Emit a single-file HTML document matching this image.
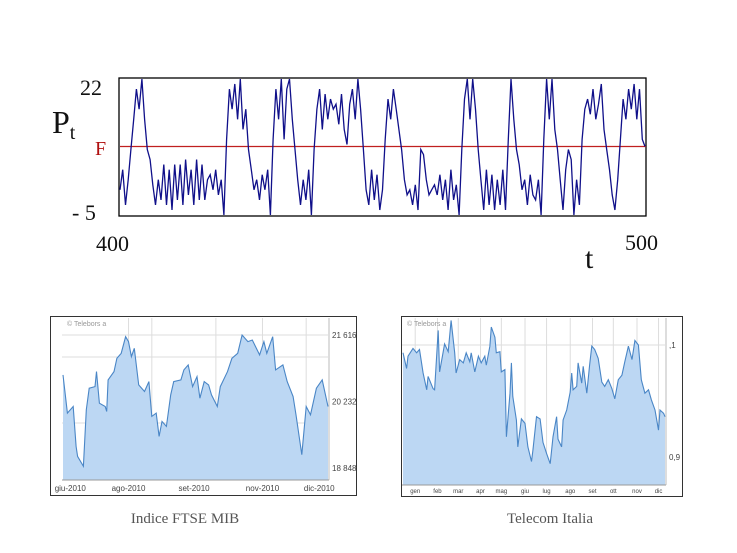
<!DOCTYPE html>
<html><head><meta charset="utf-8"><style>
html,body{margin:0;padding:0;background:#fff;}
body{width:737px;height:553px;overflow:hidden;position:relative;font-family:"Liberation Serif",serif;}
svg{position:absolute;left:0;top:0;}
</style></head><body>
<svg id="s" width="737" height="553" viewBox="0 0 737 553" xmlns="http://www.w3.org/2000/svg">
  <g id="top">
    <rect x="119" y="78" width="527" height="138" fill="none" stroke="#000" stroke-width="1.3"/>
    <text x="80" y="95" font-size="22" fill="#111">22</text>
    <text x="52" y="133" font-size="32" fill="#111">P<tspan font-size="20" dy="6">t</tspan></text>
    <text x="95" y="155" font-size="20" fill="#b01010">F</text>
    <text x="72" y="220" font-size="22" fill="#111">- 5</text>
    <text x="96" y="251" font-size="22" fill="#111">400</text>
    <text x="625" y="250" font-size="22" fill="#111">500</text>
    <text x="585" y="268" font-size="30" fill="#111">t</text>
  </g>
  <g id="left">
    <rect x="50.5" y="316.5" width="306" height="179" fill="#fff" stroke="#333" stroke-width="1"/>
  </g>
  <g id="right">
    <rect x="401.5" y="316.5" width="281" height="180" fill="#fff" stroke="#333" stroke-width="1"/>
  </g>
  <text x="185" y="523" font-size="15" fill="#555" text-anchor="middle">Indice FTSE MIB</text>
  <text x="550" y="523" font-size="15" fill="#555" text-anchor="middle">Telecom Italia</text>
</svg>
<script>
// ---- top chart data ----
const topValues = [0,4,-3,2,8,14,20,16,22,14,8,6,
1,-3,2,-2,5,-3,4,-4,5,-2,5,-3,6,-1,4,-3,6,-2,5,-2,2,3,0,4,-1,2,-5,
10,20,16,21,14,22,12,16,8,
4,0,2,-2,3,0,4,-5,
10,20,14,22,10,20,22,14,
8,2,-3,2,-2,4,-5,
8,16,20,12,19,14,18,16,17,13,19,12,9,17,20,14,22,16,
8,0,-3,4,-2,3,-4,0,
10,18,14,20,16,12,8,
2,-1,0,-3,1,-4,8,7,2,-1,0,1,-1,3,-2,2,-4,4,-2,1,-5,
8,18,22,14,22,16,8,
2,-4,4,-3,3,-4,2,-3,4,-4,
10,22,14,8,5,
0,2,-3,3,-1,-2,2,-5,
10,22,14,22,12,8,
2,-4,4,8,6,-5,2,-3,
10,16,18,15,20,14,17,21,12,8,
4,-1,-4,2,
10,18,14,20,16,21,14,20,
10,8.6];
const topT0 = 400, topT1 = 500;
const topYMin = -5, topYMax = 22;
const fundamental = 8.6;

// ---- FTSE MIB data ----
const ftseDays = [0,3,7,9,10,14,16,18,22,23,25,29,30,31,35,37,40,43,45,47,49,52,56,59,61,64,66,68,71,74,76,81,83,86,89,92,94,97,100,102,106,108,113,116,120,123,127,130,135,138,140,144,146,151,154,158,160,164,167,170,174,178,182];
const ftsePrices = [20786,19990,20128,19298,19090,18883,20059,20509,20543,20855,20197,20128,20024,20682,20855,21132,21235,21581,21478,21166,21339,20578,20440,20647,19921,19990,19505,19817,19713,20370,20647,20682,20889,20993,20543,20751,20301,20647,20578,20370,20128,20543,20855,21132,21235,21616,21478,21512,21201,21478,21235,21581,20889,20993,20647,20336,19955,19125,20128,19955,20509,20682,20128];
const ftseTicks = [21616,20232,18848];
const ftseTickLabels = ["21 616","20 232","18 848"];
const ftseMonths = ["giu-2010","ago-2010","set-2010","nov-2010","dic-2010"];
const ftseMonthDays = [5,45,90,137,176];
const ftseGridDays = [45,61,105,137,167];

// ---- Telecom data ----
const telDays = [0,5,7,14,19,23,28,33,35,40,42,44,49,51,58,63,67,72,74,79,84,88,93,95,100,105,109,114,116,121,123,128,130,135,137,142,144,149,151,153,158,160,165,170,174,179,181,186,191,195,200,205,209,214,216,221,223,228,233,235,237,242,244,249,251,256,260,263,267,272,277,281,286,291,295,300,305,309,314,319,323,328,332,337,342,346,351,356,358,363,365];
const telPrices = [0.993,0.979,0.990,0.997,0.993,0.996,0.975,0.960,0.972,0.964,0.961,0.960,1.013,0.976,1.001,0.994,1.022,0.993,0.975,0.987,0.984,0.993,0.985,0.993,0.976,0.990,0.984,0.990,0.982,0.999,1.016,1.007,0.993,0.994,0.976,0.978,0.918,0.957,0.984,0.954,0.933,0.909,0.934,0.930,0.909,0.896,0.906,0.936,0.934,0.913,0.903,0.894,0.918,0.936,0.916,0.909,0.933,0.942,0.958,0.975,0.960,0.963,0.984,0.966,0.981,0.957,0.982,0.999,0.996,0.988,0.967,0.963,0.969,0.961,0.952,0.969,0.973,0.985,0.999,0.987,1.004,1.000,0.969,0.957,0.960,0.951,0.942,0.924,0.942,0.939,0.936];
const telMonths = ["gen","feb","mar","apr","mag","giu","lug","ago","set","ott","nov","dic"];
const telMonthDays = [17,48,77,108,137,170,200,233,264,293,326,356];
const telTickVals = [1.0,0.9];
const telTickLabels = [",1","0,9"];

const NS = "http://www.w3.org/2000/svg";
function mk(tag, attrs, parent){const e=document.createElementNS(NS,tag);for(const k in attrs)e.setAttribute(k,attrs[k]);parent.appendChild(e);return e;}

// top chart
(function(){
  const g=document.getElementById('top');
  const x0=120,x1=645,yTop=79,yBot=215;
  const xs=i=>x0+(x1-x0)*i/(topValues.length-1);
  const ys=v=>yBot-(v-topYMin)/(topYMax-topYMin)*(yBot-yTop);
  const fl=mk('line',{x1:x0,x2:x1+1,y1:ys(fundamental),y2:ys(fundamental),stroke:'#c02020','stroke-width':1.3},g);
  
  
  const d=topValues.map((v,i)=>(i?'L':'M')+xs(i).toFixed(1)+','+ys(v).toFixed(1)).join(' ');
  const p=mk('path',{d:d,fill:'none',stroke:'#10108a','stroke-width':1.3},g);
  
  
})();

function areaChart(gid, days, prices, cfg){
  const g=document.getElementById(gid);
  const xs=dd=>cfg.x0+(cfg.x1-cfg.x0)*(dd-cfg.d0)/(cfg.d1-cfg.d0);
  const ys=v=>cfg.yA+(v-cfg.vA)/(cfg.vB-cfg.vA)*(cfg.yB-cfg.yA);
  cfg.hgrid.forEach(y=>{const l=mk('line',{x1:cfg.x0-1,x2:cfg.x1,y1:y,y2:y,stroke:'#ddd','stroke-width':1},g);
    
    });
  cfg.gridDays.forEach(dd=>{const x=xs(dd);
    const l=mk('line',{x1:x,x2:x,y1:cfg.plotTop,y2:cfg.base,stroke:'#ddd','stroke-width':1},g);
    
    });
  cfg.monthDays.forEach((dd,i)=>{const x=xs(dd);
    const t=mk('text',{x:x,y:cfg.labelY,'font-size':cfg.lfs,fill:'#444','text-anchor':'middle','font-family':'Liberation Sans, sans-serif'},g);
    t.textContent=cfg.months[i];
    
    });
  let d='M'+xs(days[0]).toFixed(1)+','+cfg.base;
  days.forEach((dd,i)=>{d+=' L'+xs(dd).toFixed(1)+','+ys(prices[i]).toFixed(1);});
  d+=' L'+xs(days[days.length-1]).toFixed(1)+','+cfg.base+' Z';
  const a=mk('path',{d:d,fill:'#bcd7f3',stroke:'none'},g);
  
  
  const ld=days.map((dd,i)=>(i?'L':'M')+xs(dd).toFixed(1)+','+ys(prices[i]).toFixed(1)).join(' ');
  const l=mk('path',{d:ld,fill:'none',stroke:'#4a86c6','stroke-width':1.1},g);
  
  
  const ax=mk('line',{x1:cfg.x1+1,x2:cfg.x1+1,y1:cfg.plotTop,y2:cfg.base,stroke:'#bbb','stroke-width':1},g);
  
  
  const bx=mk('line',{x1:cfg.x0-1,x2:cfg.x1+1,y1:cfg.base,y2:cfg.base,stroke:'#999','stroke-width':1},g);
  
  
  cfg.ticks.forEach((v,i)=>{const t=mk('text',{x:cfg.x1+4,y:ys(v)+3,'font-size':8,fill:'#444','font-family':'Liberation Sans, sans-serif'},g);
    t.textContent=cfg.tickLabels[i];
    
    });
  const w=mk('text',{x:cfg.x0+4,y:cfg.plotTop+8,'font-size':7,fill:'#999','font-family':'Liberation Sans, sans-serif'},g);
  w.textContent='© Telebors a';
  
  
}
areaChart('left',ftseDays,ftsePrices,{x0:63,x1:328,d0:0,d1:182,vA:21616,yA:335,vB:18848,yB:468,base:480,plotTop:318,
  hgrid:[335,357,423],gridDays:ftseGridDays,monthDays:ftseMonthDays,months:ftseMonths,labelY:491,lfs:8,ticks:ftseTicks,tickLabels:ftseTickLabels});
areaChart('right',telDays,telPrices,{x0:403,x1:665,d0:0,d1:365,vA:1.0,yA:345,vB:0.9,yB:457,base:485,plotTop:318,
  hgrid:[345],gridDays:telMonthDays,monthDays:telMonthDays,months:telMonths,labelY:493,lfs:6,ticks:telTickVals,tickLabels:telTickLabels});
</script>
</body></html>
